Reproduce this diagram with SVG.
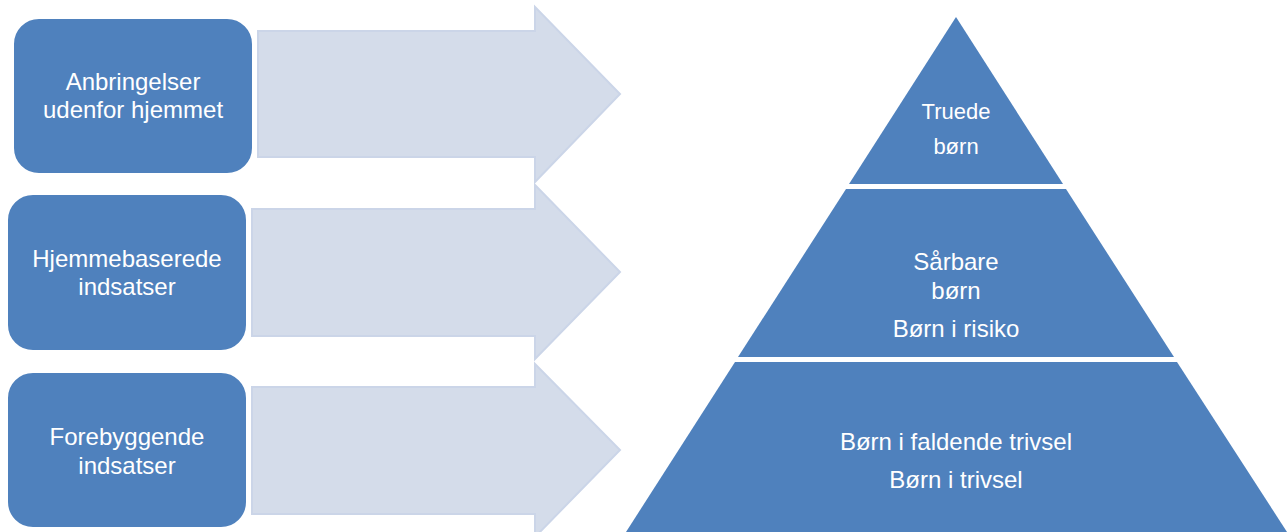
<svg xmlns="http://www.w3.org/2000/svg" width="1287" height="532" viewBox="0 0 1287 532">
<style>
.box{fill:#4F81BD;stroke:#ffffff;stroke-width:2}
.arrow{fill:#D4DCEA;stroke:#CBD5E8;stroke-width:2}
.pyr{fill:#4F81BD}
text{font-family:"Liberation Sans",Arial,sans-serif;fill:#ffffff;text-anchor:middle}
.lt{font-size:24px}
.pt{font-size:24px}
.ps{font-size:22px}
</style>
<rect width="1287" height="532" fill="#ffffff"/>
<g id="connectors">
<polygon class="arrow" points="258,31 535,31 535,7 620,94 535,182 535,157 258,157"/>
<polygon class="arrow" points="252,209 535,209 535,185 620,272 535,359 535,336 252,336"/>
<polygon class="arrow" points="252,387 535,387 535,364 620,450 535,537 535,514 252,514"/>
</g>
<g id="box-anbringelser">
<rect class="box" x="13" y="18" width="240" height="156" rx="26"/>
<text class="lt" x="133" y="90">Anbringelser</text>
<text class="lt" x="133" y="118">udenfor hjemmet</text>
</g>
<g id="box-hjemmebaserede">
<rect class="box" x="7" y="194" width="240" height="157" rx="26"/>
<text class="lt" x="127" y="267">Hjemmebaserede</text>
<text class="lt" x="127" y="295">indsatser</text>
</g>
<g id="box-forebyggende">
<rect class="box" x="7" y="372" width="240" height="156" rx="26"/>
<text class="lt" x="127" y="445">Forebyggende</text>
<text class="lt" x="127" y="474">indsatser</text>
</g>
<g id="pyr-top">
<polygon class="pyr" points="956,17 1063,184 849,184"/>
<text class="ps" x="956" y="119">Truede</text>
<text class="ps" x="956" y="154">børn</text>
</g>
<g id="pyr-middle">
<polygon class="pyr" points="846,189 1066,189 1174,357 738,357"/>
<text class="pt" x="956" y="270">Sårbare</text>
<text class="pt" x="956" y="299">børn</text>
<text class="pt" x="956" y="337">Børn i risiko</text>
</g>
<g id="pyr-bottom">
<polygon class="pyr" points="735,362 1177,362 1287,532 626,532"/>
<text class="pt" x="956" y="450">Børn i faldende trivsel</text>
<text class="pt" x="956" y="488">Børn i trivsel</text>
</g>
</svg>
